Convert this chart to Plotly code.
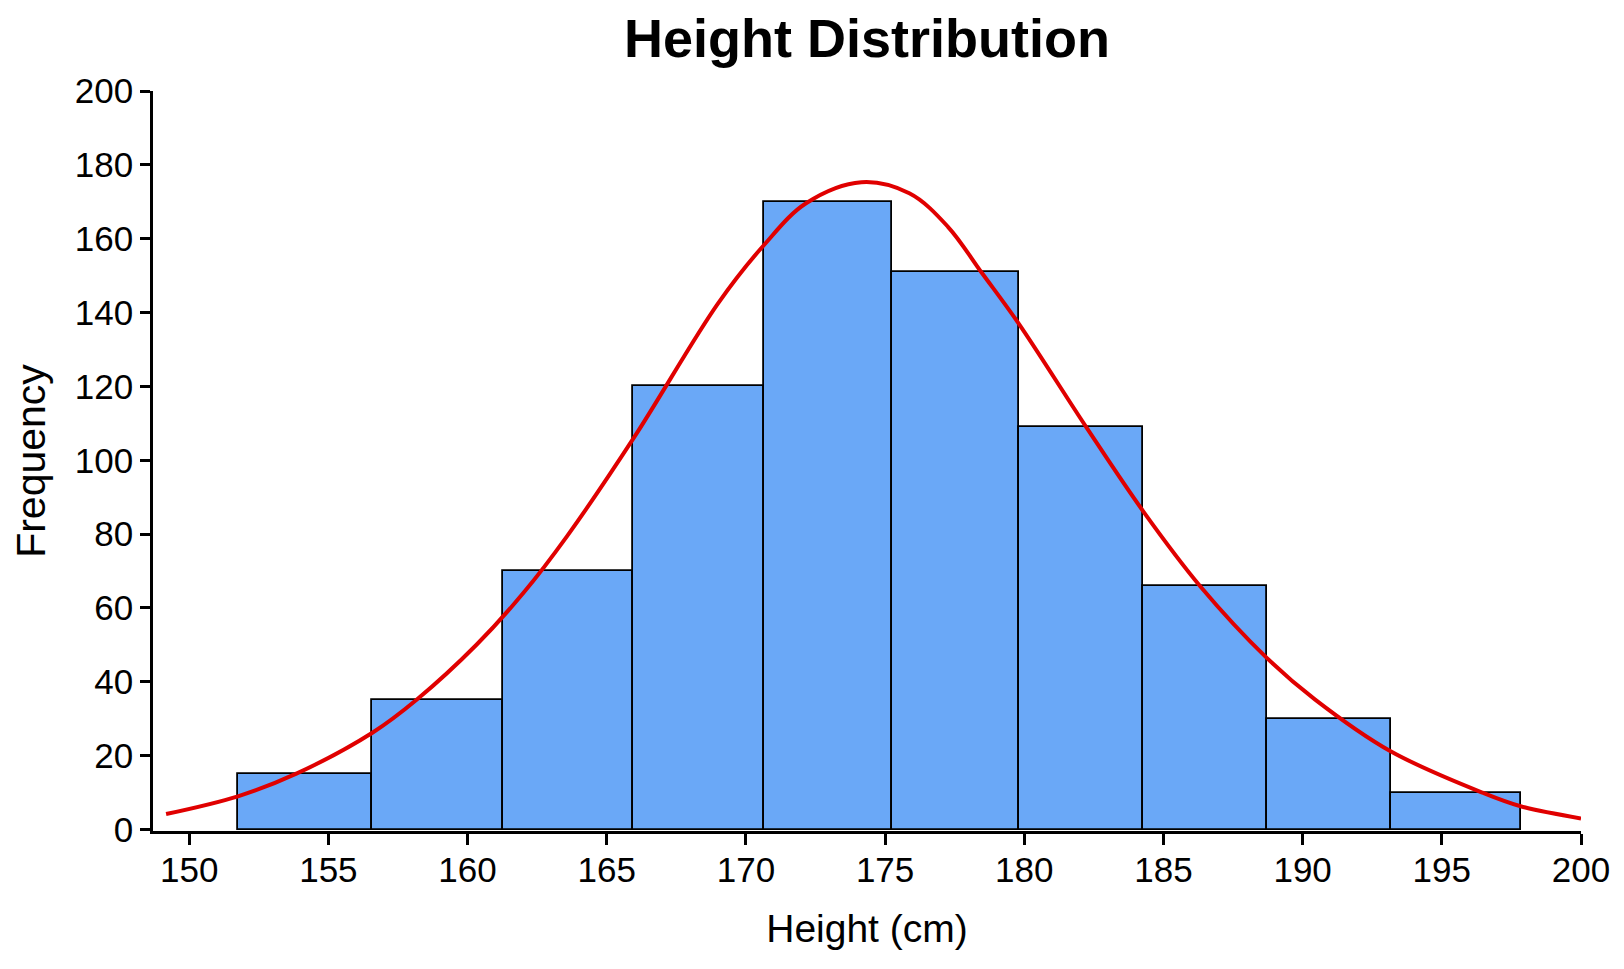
import plotly.graph_objects as go

# Histogram bins (edges) and counts
bin_edges = [151.75, 156.58, 161.27, 165.94, 170.65, 175.25, 179.81, 184.28, 188.71, 193.16, 197.83]
counts = [15, 35, 70, 120, 170, 151, 109, 66, 30, 10]

# Fitted curve, points
curve_x = [149.17, 151.75, 153.87, 156.58, 158.18, 160.33, 162.01, 163.57, 166.0,
           169.0, 170.65, 172.16, 174.15, 175.87, 177.25, 178.48, 179.8, 182.25, 184.28,
           186.32, 188.71, 190.45, 193.16, 196.49, 197.83, 200.0]
curve_y = [4.2, 9.0, 15.2, 26.2, 35.2, 50.1, 64.1, 79.4, 106.4,
           142.5, 158.3, 169.6, 175.3, 172.3, 163.3, 150.7, 137.0, 108.7, 86.1,
           65.9, 46.5, 35.2, 21.2, 9.9, 6.3, 3.0]

x_ticks = [150, 155, 160, 165, 170, 175, 180, 185, 190, 195, 200]
y_ticks = [0, 20, 40, 60, 80, 100, 120, 140, 160, 180, 200]

centers = [(a + b) / 2 for a, b in zip(bin_edges[:-1], bin_edges[1:])]
widths = [b - a for a, b in zip(bin_edges[:-1], bin_edges[1:])]

tick_font = dict(family="Liberation Sans, Arial", size=35, color="black")

fig = go.Figure()

fig.add_trace(go.Bar(
    x=centers,
    y=counts,
    width=widths,
    marker=dict(color="#6aa8f7", line=dict(color="black", width=1.8)),
    hoverinfo="x+y",
    showlegend=False,
))

fig.add_trace(go.Scatter(
    x=curve_x,
    y=curve_y,
    mode="lines",
    line=dict(color="#e00000", width=4, shape="spline", smoothing=1),
    showlegend=False,
))

# the page adds an 8px body margin, so margins are shifted by 8
fig.update_layout(
    width=1624,
    height=969,
    plot_bgcolor="white",
    paper_bgcolor="white",
    margin=dict(l=145, r=51, t=83, b=146),
    bargap=0,
    title=dict(
        text="<b>Height Distribution</b>",
        x=0.5,
        xref="paper",
        y=1 - 30 / 969,
        yanchor="middle",
        font=dict(family="Liberation Sans, Arial", size=54, color="black"),
    ),
)

fig.update_xaxes(
    range=[148.7, 200],
    tickvals=x_ticks,
    ticks="outside",
    ticklen=11,
    tickwidth=2.5,
    tickcolor="black",
    showline=True,
    linecolor="black",
    linewidth=2.5,
    showgrid=False,
    zeroline=False,
    tickfont=tick_font,
    ticklabelstandoff=-5,
    title=dict(text="Height (cm)", font=dict(family="Liberation Sans, Arial", size=39, color="black"),
               standoff=27),
)

fig.update_yaxes(
    range=[-0.4, 200],
    tickvals=y_ticks,
    ticks="outside",
    ticklen=10,
    tickwidth=2.5,
    tickcolor="black",
    showline=True,
    linecolor="black",
    linewidth=2.5,
    showgrid=False,
    zeroline=False,
    tickfont=tick_font,
    title=dict(text="Frequency", font=dict(family="Liberation Sans, Arial", size=41, color="black"),
               standoff=20),
)

fig.write_html("out.html")
